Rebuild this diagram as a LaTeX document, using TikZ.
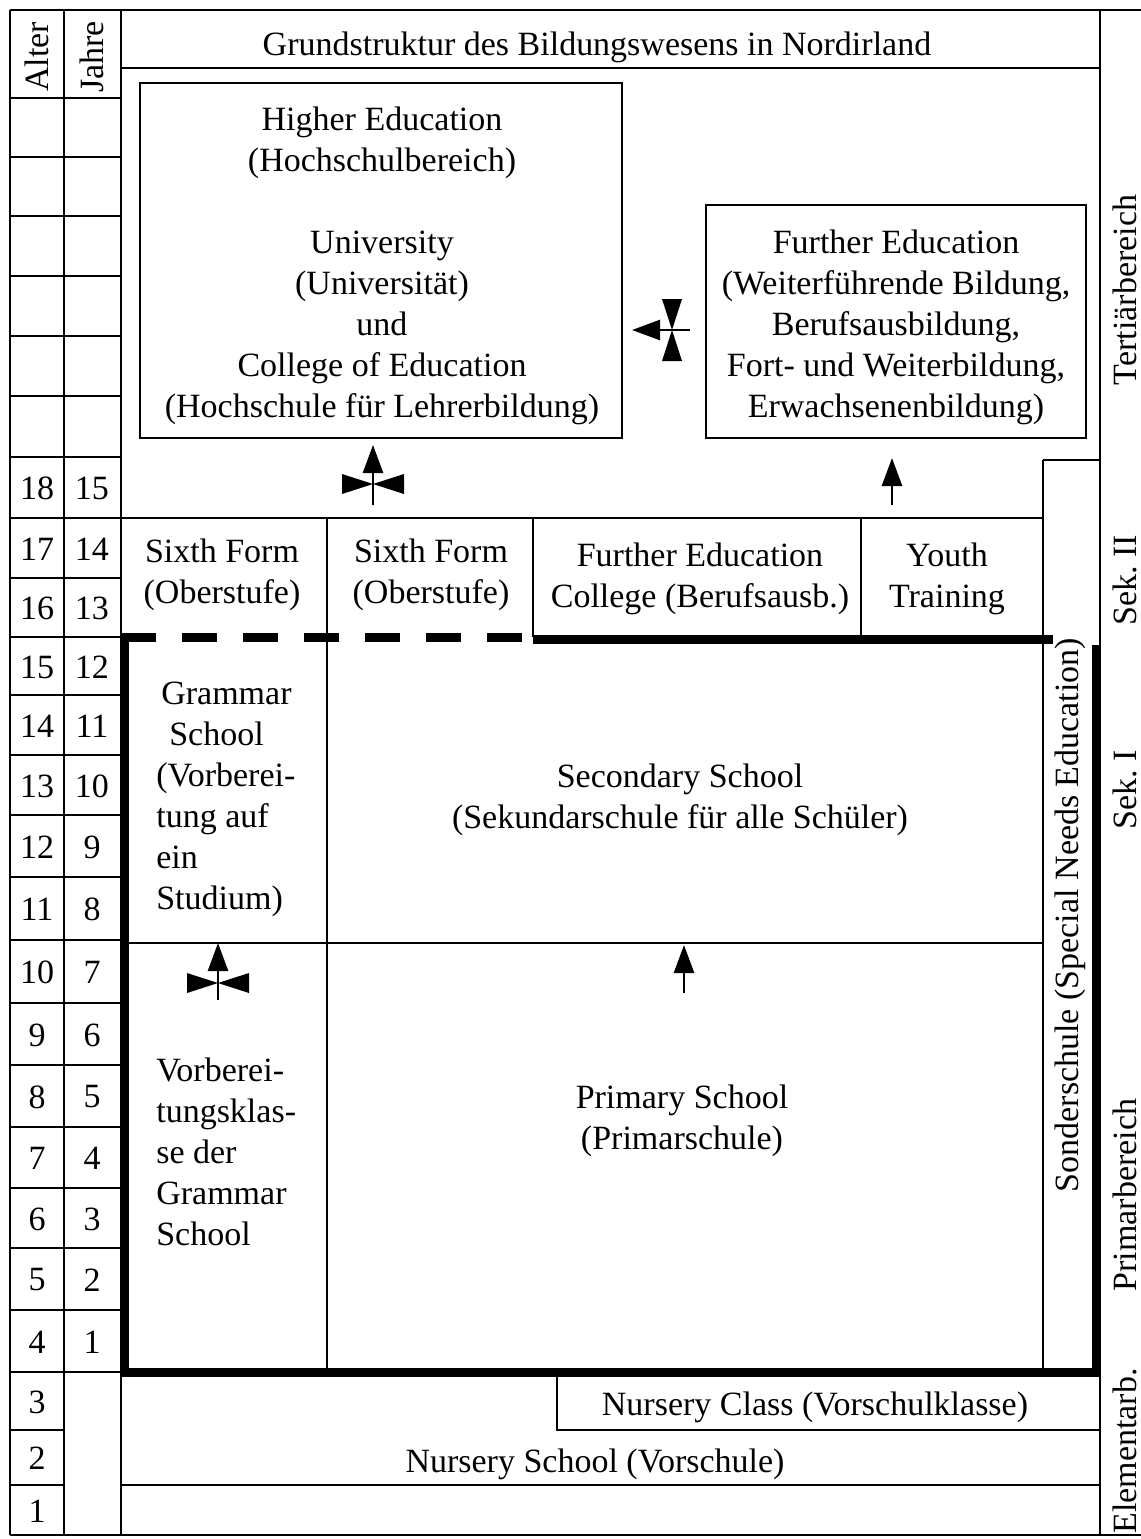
\documentclass[tikz,border=0pt]{standalone}
\usepackage{fontspec}
\setmainfont{Liberation Serif}
\usetikzlibrary{arrows.meta}

\begin{document}
\begin{tikzpicture}[x=0.5pt, y=-0.5pt, line width=1.3pt,
  lbl/.style={font=\fontsize{17}{20.5}\selectfont, align=center, inner sep=0pt},
  side/.style={lbl, rotate=90},
  box/.style={lbl, draw},
  bold/.style={line width=4.5pt},
  arr/.style={-{Triangle[length=14pt,width=10pt]}},
  valve/.pic={\fill (-31,-10)--(0,0)--(-31,10)--cycle (31,-10)--(0,0)--(31,10)--cycle;}]
\useasboundingbox (0,0) rectangle (1141,1539);

% frame and age columns
\draw (10,10) -- (1141,10);
\draw (10,1535) -- (1141,1535);
\foreach \x in {10,64,121,1100} \draw (\x,10) -- (\x,1535);
\draw (10,98) -- (121,98);
\foreach \y in {157,216,276,336,396} \draw (10,\y) -- (121,\y);
\node[side] (alter) at (37,57) {Alter};
\node[side] (jahre) at (92,57) {Jahre};
\foreach \a/\t/\b in {18/457/518,17/518/578,16/578/637,15/637/695,14/695/755,
  13/755/815,12/815/877,11/877/940,10/940/1003,9/1003/1065,8/1065/1127,
  7/1127/1188,6/1188/1248,5/1248/1310,4/1310/1372,3/1372/1430,2/1430/1485,1/1485/1535} {
 \ifnum\a>2 \draw (10,\t) -- (121,\t); \else \draw (10,\t) -- (64,\t); \fi
 \node[lbl] (alter\a) at (37,{(\t+\b)/2+1}) {\a};
 \ifnum\a>3
  \pgfmathtruncatemacro\j{\a-3}
  \node[lbl] (jahre\a) at (92,{(\t+\b)/2+1}) {\j};
 \fi
}

% title
\draw (121,68) -- (1100,68);
\node[lbl] (title) at (597,47) {Grundstruktur des Bildungswesens in Nordirland};

% tertiary
\node[box, minimum width=241pt, minimum height=177.5pt] (higher) at (381,260.5) {};
\node[lbl] (highertext) at (382,266)
 {Higher Education\\(Hochschulbereich)\\[20.5pt]University\\(Universität)\\und\\College of Education\\(Hochschule für Lehrerbildung)};
\node[box, minimum width=190pt, minimum height=116.5pt] (further) at (896,321.5) {};
\node[lbl] (furthertext) at (896,327)
 {Further Education\\(Weiterführende Bildung,\\Berufsausbildung,\\Fort- und Weiterbildung,\\Erwachsenenbildung)};

% sek II
\draw (121,518) -- (1043,518);
\draw (533,518) -- (533,637);
\draw (861,518) -- (861,637);
\node[lbl] (sixthA) at (222,575) {Sixth Form\\(Oberstufe)};
\node[lbl] (sixthB) at (431,575) {Sixth Form\\(Oberstufe)};
\node[lbl] (fecollege) at (700,579) {Further Education\\College (Berufsausb.)};
\node[lbl] (youth) at (947,579) {Youth\\Training};

% sonderschule
\draw (1043,460) -- (1100,460);
\draw (1043,460) -- (1043,1372);
\node[side] (sonder) at (1070,915) {Sonderschule (Special Needs Education)};

% sek I and primary
\draw (327,518) -- (327,1372);
\draw (121,943) -- (1043,943);
\node[lbl, align=left, anchor=west] (grammar) at (155,799)
 {\hspace*{2.5pt}Grammar\\\hspace*{6.5pt}School\\(Vorberei-\\tung auf\\ein\\Studium)};
\node[lbl] (secondary) at (680,800) {Secondary School\\(Sekundarschule für alle Schüler)};
\node[lbl, align=left, anchor=west] (vorklasse) at (155,1152)
 {Vorberei-\\tungsklas-\\se der\\Grammar\\School};
\node[lbl] (primary) at (682,1121) {Primary School\\(Primarschule)};

% compulsory schooling
\draw[bold, dash pattern=on 17.5pt off 13pt] (121,637) -- (522,637);
\draw[bold] (533,639) -- (1053,639);
\draw[bold] (124,633) -- (124,1372) -- (1096,1372) -- (1096,645);

% nursery
\draw (557,1372) -- (557,1430) -- (1100,1430);
\draw (121,1485) -- (1100,1485);
\node[lbl] (nurseryclass) at (815,1407) {Nursery Class (Vorschulklasse)};
\node[lbl] (nurseryschool) at (595,1464) {Nursery School (Vorschule)};

% stages
\node[side] (tertiaer) at (1125,290) {Tertiärbereich};
\node[side] (sekII) at (1125,580) {Sek.~II};
\node[side] (sekI) at (1125,790) {Sek.~I};
\node[side] (primar) at (1125,1195) {Primarbereich};
\node[side] (elementar) at (1125,1451) {Elementarb.};

% transitions
\coordinate (heFoot) at (373,505);  \coordinate (heTip) at (373,445);
\coordinate (feFoot) at (892,505);  \coordinate (feTip) at (892,458);
\coordinate (swFoot) at (690,330);  \coordinate (swTip) at (632,330);
\coordinate (gsFoot) at (218,1000); \coordinate (gsTip) at (218,943);
\coordinate (psFoot) at (684,993);  \coordinate (psTip) at (684,945);
\draw[arr] (heFoot) -- (heTip);
\draw[arr] (feFoot) -- (feTip);
\draw[arr] (swFoot) -- (swTip);
\draw[arr] (gsFoot) -- (gsTip);
\draw[arr] (psFoot) -- (psTip);
\pic at (373,484) {valve};
\pic[rotate=90] at (672,330) {valve};
\pic at (218,983) {valve};
\end{tikzpicture}
\end{document}
